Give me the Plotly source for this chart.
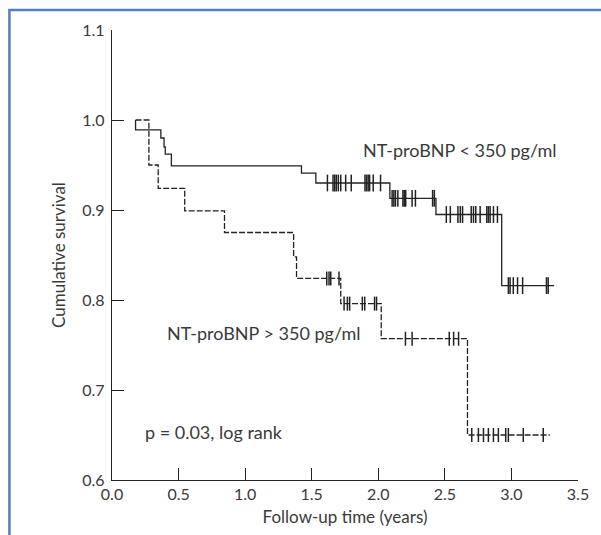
import numpy as np
import plotly.graph_objects as go

# Kaplan-Meier step data (time in years, cumulative survival)
low_times = [0.177, 0.177, 0.367, 0.391, 0.400, 0.446, 1.423, 1.531, 2.087, 2.433, 2.927, 3.321]
low_surv = [1.000, 0.989, 0.980, 0.970, 0.962, 0.949, 0.941, 0.930, 0.913, 0.895, 0.816, 0.816]
low_censored = [1.618, 1.660, 1.673, 1.685, 1.700, 1.718, 1.755, 1.797, 1.900, 1.912, 1.924, 1.935,
                 1.962, 2.017,
                 2.104, 2.117, 2.129, 2.147, 2.185, 2.195, 2.206, 2.254, 2.279, 2.408, 2.421,
                 2.511, 2.541, 2.598, 2.616, 2.633, 2.698, 2.715, 2.732, 2.765, 2.815, 2.827,
                 2.840, 2.865, 2.895,
                 2.977, 2.990, 3.014, 3.046, 3.084, 3.263, 3.276]

high_times = [0.177, 0.277, 0.347, 0.546, 0.845, 1.364, 1.386, 1.718, 2.022, 2.670, 3.289]
high_surv = [1.000, 0.950, 0.924, 0.899, 0.875, 0.848, 0.824, 0.796, 0.757, 0.650, 0.650]
high_censored = [1.613, 1.630, 1.643, 1.705,
                 1.743, 1.768, 1.785, 1.880, 1.898, 1.972, 1.987,
                 2.204, 2.254, 2.533, 2.566, 2.603,
                 2.702, 2.752, 2.790, 2.827, 2.865, 2.902, 2.957, 2.977, 3.089, 3.239]

x_ticks = [0.0, 0.5, 1.0, 1.5, 2.0, 2.5, 3.0, 3.5]
y_ticks = [0.6, 0.7, 0.8, 0.9, 1.0, 1.1]

INK = "#222222"
TEXT = "#3a3a3a"
FONT = "Lato"


def level_at(times, surv, t):
    """Survival level of a right-continuous step curve at time t."""
    idx = np.searchsorted(np.asarray(times), np.asarray(t), side="right") - 1
    return np.asarray(surv)[idx]


fig = go.Figure()

fig.add_trace(go.Scatter(x=low_times, y=low_surv, mode="lines", line_shape="hv",
                         line=dict(color=INK, width=1.3), showlegend=False, hoverinfo="skip"))
fig.add_trace(go.Scatter(x=low_censored, y=level_at(low_times, low_surv, low_censored),
                         mode="markers",
                         marker=dict(symbol="line-ns", size=12, line=dict(color=INK, width=1.5)),
                         showlegend=False, hoverinfo="skip"))

fig.add_trace(go.Scatter(x=high_times, y=high_surv, mode="lines", line_shape="hv",
                         line=dict(color=INK, width=1.3, dash="6px,2px"),
                         showlegend=False, hoverinfo="skip"))
fig.add_trace(go.Scatter(x=high_censored, y=level_at(high_times, high_surv, high_censored),
                         mode="markers",
                         marker=dict(symbol="line-ns", size=10, line=dict(color=INK, width=1.5)),
                         showlegend=False, hoverinfo="skip"))

annot_font = dict(family=FONT, size=18, color=TEXT)
fig.add_annotation(x=1.870, y=0.9667, text="NT-proBNP < 350 pg/ml", showarrow=False,
                   xanchor="left", yanchor="middle", font=annot_font)
fig.add_annotation(x=0.396, y=0.763, text="NT-proBNP > 350 pg/ml", showarrow=False,
                   xanchor="left", yanchor="middle", font=annot_font)
fig.add_annotation(x=0.232, y=0.653, text="p = 0.03, log rank", showarrow=False,
                   xanchor="left", yanchor="middle", font=annot_font)

# Frame along the top and left edges
fig.add_shape(type="path", xref="paper", yref="paper",
              path="M -0.2201,-0.15 L -0.2201,1.0444 L 1.1,1.0444",
              line=dict(color="#4f81bd", width=2.5))

axis_common = dict(showline=True, linecolor=INK, linewidth=1.3, ticks="inside", ticklen=12,
                   tickwidth=1.3, tickcolor=INK, showgrid=False, zeroline=False,
                   tickfont=dict(family=FONT, size=16, color=TEXT), tickformat=".1f")

fig.update_xaxes(range=[0, 3.5], tickvals=x_ticks, ticklabelstandoff=0,
                 title=dict(text="Follow-up time (years)", standoff=8,
                            font=dict(family=FONT, size=17, color=TEXT)),
                 **axis_common)
fig.update_yaxes(range=[0.6, 1.1], tickvals=y_ticks, ticklabelstandoff=3,
                 title=dict(text="Cumulative survival", standoff=12,
                            font=dict(family=FONT, size=17, color=TEXT)),
                 **axis_common)

fig.update_layout(width=601, height=535, autosize=False,
                  margin=dict(l=112, r=21, t=30, b=55),
                  plot_bgcolor="white", paper_bgcolor="white")

fig.write_html("out.html")
